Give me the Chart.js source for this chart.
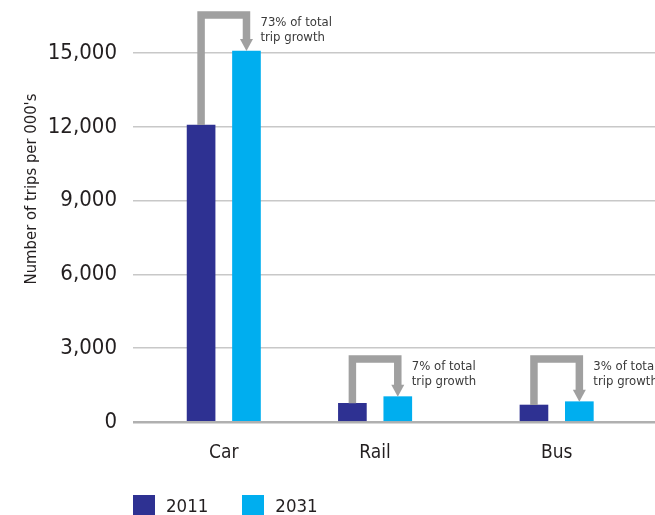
<!DOCTYPE html>
<html>
<head>
<meta charset="utf-8">
<script src="https://cdn.jsdelivr.net/npm/chart.js@4.4.1/dist/chart.umd.min.js"></script>
<style>
  body { margin: 0; background: #fff; }
  #wrap { position: relative; width: 655px; height: 515px; overflow: hidden; }
  #legend { position: absolute; left: 133px; top: 495px; display: flex; font-family: 'Liberation Sans Narrow', 'DejaVu Sans Condensed', sans-serif; font-size: 18.5px; color: #231f20; }
  .item { display: flex; align-items: center; margin-right: 34px; line-height: 22px; }
  .box { width: 22px; height: 22px; margin-right: 11px; }
</style>
</head>
<body>
<div id="wrap">
  <canvas id="tripsChart" width="655" height="515"></canvas>
  <div id="legend"></div>
</div>
<script>
const categories = ['Car', 'Rail', 'Bus'];
const trips2011 = [12070, 760, 690];
const trips2031 = [15080, 1030, 825];
const growthShare = ['73%', '7%', '3%'];
const seriesNames = ['2011', '2031'];
const yTicks = [0, 3000, 6000, 9000, 12000, 15000];
// height (in trips) of the grey connector above each pair
const arrowLevel = [16544, 2561, 2561];

// uneven spacing of the groups: slot grid along the category axis
const SLOTS = 70;
const catSlot = [12, 32, 56];
const barShift = 3;

const FONT = "'Liberation Sans Narrow', 'DejaVu Sans Condensed', sans-serif";
const colors = ['#2e3192', '#00aeef'];

const labels = Array(SLOTS).fill('');
const data2011 = Array(SLOTS).fill(null);
const data2031 = Array(SLOTS).fill(null);
categories.forEach((c, i) => {
    labels[catSlot[i]] = c;
    data2011[catSlot[i] - barShift] = trips2011[i];
    data2031[catSlot[i] + barShift] = trips2031[i];
});

const growthArrows = {
    id: 'growthArrows',
    afterDatasetsDraw(chart) {
        const ctx = chart.ctx;
        const y = chart.scales.y;
        const m0 = chart.getDatasetMeta(0);
        const m1 = chart.getDatasetMeta(1);
        ctx.save();
        categories.forEach((c, i) => {
            const b0 = m0.data[catSlot[i] - barShift];
            const b1 = m1.data[catSlot[i] + barShift];
            const yl = y.getPixelForValue(arrowLevel[i]);
            ctx.strokeStyle = '#a0a0a0';
            ctx.fillStyle = '#a0a0a0';
            ctx.lineWidth = 7.5;
            ctx.lineJoin = 'miter';
            ctx.beginPath();
            ctx.moveTo(b0.x, b0.y);
            ctx.lineTo(b0.x, yl);
            ctx.lineTo(b1.x, yl);
            ctx.lineTo(b1.x, b1.y - 11);
            ctx.stroke();
            ctx.beginPath();
            ctx.moveTo(b1.x - 6.5, b1.y - 12);
            ctx.lineTo(b1.x + 6.5, b1.y - 12);
            ctx.lineTo(b1.x, b1.y);
            ctx.closePath();
            ctx.fill();
            ctx.fillStyle = '#3a3a3a';
            ctx.font = '13px ' + FONT;
            ctx.textAlign = 'left';
            ctx.textBaseline = 'middle';
            const tx = b1.x + b1.width / 2;
            ctx.fillText(growthShare[i] + ' of total', tx, yl + 7.5);
            ctx.fillText('trip growth', tx, yl + 23);
        });
        // axis title
        ctx.fillStyle = '#231f20';
        ctx.font = '16.5px ' + FONT;
        ctx.textAlign = 'center';
        ctx.textBaseline = 'middle';
        ctx.translate(32, 189);
        ctx.rotate(-Math.PI / 2);
        ctx.fillText("Number of trips per 000's", 0, 0);
        ctx.restore();
    }
};

Chart.defaults.font.family = FONT;
Chart.defaults.color = '#231f20';

const chart = new Chart(document.getElementById('tripsChart'), {
    type: 'bar',
    data: {
        labels: labels,
        datasets: [
            { label: seriesNames[0], data: data2011, backgroundColor: colors[0], grouped: false, barThickness: 28 },
            { label: seriesNames[1], data: data2031, backgroundColor: colors[1], grouped: false, barThickness: 28 }
        ]
    },
    options: {
        responsive: false,
        animation: false,
        events: [],
        layout: { padding: 0 },
        plugins: { legend: { display: false }, tooltip: { enabled: false } },
        scales: {
            x: {
                offset: false,
                grid: { display: false },
                border: { display: false },
                ticks: { autoSkip: false, maxRotation: 0, minRotation: 0, padding: 12, font: { size: 19 } },
                afterFit: s => { s.height = 93; s.paddingLeft = 0; s.paddingRight = 0; }
            },
            y: {
                min: 0,
                max: 17154,
                border: { display: false },
                grid: {
                    drawTicks: false,
                    color: c => c.tick && c.tick.value === 0 ? '#b0b0b0' : '#c8c8c8',
                    lineWidth: c => c.tick && c.tick.value === 0 ? 2.5 : 1.5
                },
                afterBuildTicks: s => { s.ticks = yTicks.map(v => ({ value: v })); },
                ticks: {
                    padding: 16,
                    font: { size: 22 },
                    callback: v => v.toLocaleString('en-US')
                },
                afterFit: s => { s.width = 133; s.paddingTop = 0; s.paddingBottom = 0; }
            }
        }
    },
    plugins: [growthArrows]
});

const legend = document.getElementById('legend');
chart.data.datasets.forEach(ds => {
    const item = document.createElement('div');
    item.className = 'item';
    const box = document.createElement('span');
    box.className = 'box';
    box.style.background = ds.backgroundColor;
    const txt = document.createElement('span');
    txt.textContent = ds.label;
    item.appendChild(box);
    item.appendChild(txt);
    legend.appendChild(item);
});
</script>
</body>
</html>
